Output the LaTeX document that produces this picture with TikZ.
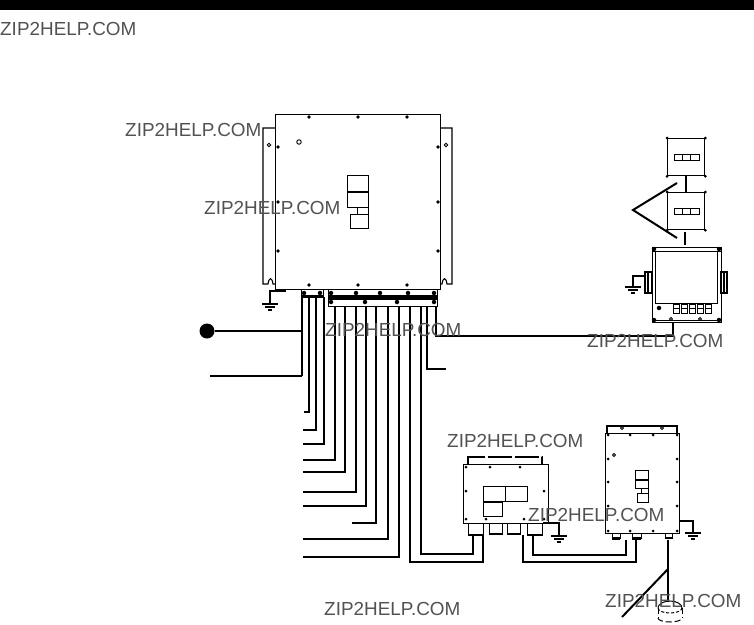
\documentclass[tikz,border=0pt]{standalone}
\usepackage{fontspec}
\setmainfont{Liberation Sans}
\usetikzlibrary{calc}
\tikzset{
  wire/.style={line width=2pt,line join=miter},
  thin line/.style={line width=1.1pt},
  panel/.style={draw,line width=1.3pt,fill=white,rectangle,inner sep=0pt,anchor=north west},
  mark label/.style={anchor=west,inner sep=0pt,text=black!68,font=\fontsize{18.9}{20}\selectfont},
  rivet/.style={circle,fill=black,inner sep=0pt,minimum size=3.6pt},
  ringhole/.style={circle,draw,line width=.9pt,inner sep=0pt,minimum size=4.5pt},
  gnd/.pic={
    \draw[line width=1.6pt] (-8,0) -- (8,0);
    \draw[line width=1.6pt] (-5,3) -- (5,3);
    \draw[line width=1.6pt] (-2,6) -- (2,6);
  }
}
\newcommand{\pbox}[5]{\node[panel,minimum width=#4pt-#2pt,minimum height=#5pt-#3pt] (#1) at (#2,#3) {};}
\begin{document}
\begin{tikzpicture}[x=1pt,y=-1pt]
\useasboundingbox (0,0) rectangle (754,624);
\fill[black] (0,0) rectangle (754,10);

% main unit flanges
\draw[thin line] (275,128) -- (263,128) -- (263,284) -- (268,284) .. controls (269,277) and (272,277) .. (273,284) -- (275,284);
\draw[thin line] (440,128) -- (452,128) -- (452,284) -- (447,284) .. controls (446,277) and (443,277) .. (442,284) -- (440,284);
\node[ringhole,minimum size=3.5pt] at (269,145) {};
\node[ringhole,minimum size=3.5pt] at (446,145) {};
\pbox{main}{275}{114}{440}{289}
\node[ringhole] at (299,142) {};
\foreach \p in {(309,117),(358,117),(407,117),(278,147),(438,147),(278,202),(438,202),(278,251),(438,251),(309,285),(358,285),(407,285)}
  \node[rivet] at \p {};
\pbox{mA}{347}{175}{368}{191}
\pbox{mB}{347}{191}{368}{207}
\pbox{mC}{357}{207}{368}{214}
\pbox{mD}{350}{214}{368}{228}
\draw[line width=1.8pt] (mA.south west) -- (mA.south east);

% terminal blocks
\pbox{tsL}{301}{289}{323}{297}
\pbox{tsR}{328}{289}{437}{306}
\fill (328,295) rectangle (437,300);
\fill (301,295) rectangle (323,297);
\foreach \p in {(304,293),(320,293),(331,293),(356,293),(380,293),(408,293),(434,293),(331,302),(365,302),(397,302),(434,302)}
  \node[rivet,minimum size=4.5pt] at \p {};

% ground of main unit
\coordinate (mg) at (286,291);
\coordinate (mgb) at (270,304);
\draw[wire] (mg) -| (mgb);
\pic at (mgb) {gnd};

% left inputs
\node[circle,fill=black,inner sep=0pt,minimum size=15pt] (dot) at (207,331) {};
\coordinate (busT) at (302,297);
\coordinate (busB) at (302,376);
\coordinate (inB) at (210,376);
\draw[line width=2.6pt] (busT) -- (busB);
\draw[wire] (dot) -- (302,331);
\draw[wire] (inB) -- (busB);

% harness
\foreach \x/\y/\l/\t in {309/412/304/297,316/430/303/297,324/444/303/297,335/460/303/306,345/472/303/306,356/492/303/306,366/506/303/306,376/523/352/306,388/539/303/306,399/557/303/306}
  \draw[wire] (\x,\t) -- (\x,\y) -- (\l,\y);
\draw[wire] (427,306) -- (427,369) -- (446,369);

% lower-left unit
\draw[thin line,dash pattern=on 24pt off 3pt] (468,464) -- (468,457) -- (542,457) -- (542,464);
\pbox{lu}{463}{464}{548}{523}
\foreach \p in {(466,467),(490,467),(520,467),(466,491),(544,491),(466,519),(486,519),(524,519),(544,519)}
  \node[rivet,minimum size=3pt] at \p {};
\pbox{luA}{483}{486}{505}{501}
\pbox{luB}{505}{486}{527}{501}
\pbox{luC}{483}{502}{502}{516}
\pbox{cA}{468}{523}{483}{535}
\pbox{cB}{489}{523}{502}{534}
\pbox{cC}{507}{523}{520}{534}
\pbox{cD}{527}{523}{542}{535}
\foreach \a/\b/\c in {468/483/535,489/502/534,507/520/534,527/542/535}
  \fill (\a,\c-1) rectangle (\b,\c+1);
\coordinate (lug) at (543,523);
\coordinate (lugb) at (559,536);
\draw[wire] (lug) -| (lugb);
\pic at (lugb) {gnd};

% wires to lower-left unit
\draw[wire] (421,306) -- (421,554) -- (473,554) -- (473,535);
\draw[wire] (410,306) -- (410,562) -- (483,562) -- (483,535);

% lower-right unit
\draw[thin line] (607,433) -- (607,426) -- (677,426) -- (677,433);
\node[ringhole,minimum size=3pt] at (622,428) {};
\node[ringhole,minimum size=3pt] at (662,428) {};
\pbox{ru}{605}{433}{679}{533}
\foreach \p in {(608,435),(630,435),(653,435),(677,435),(608,459),(677,459),(608,482),(677,482),(608,506),(677,506),(608,531),(630,531),(653,531),(677,531)}
  \node[rivet,minimum size=3pt] at \p {};
\node[ringhole,minimum size=3pt] at (614,455) {};
\pbox{rA}{635}{470}{648}{479}
\pbox{rB}{635}{479}{648}{488}
\pbox{rC}{641}{488}{648}{493}
\pbox{rD}{637}{493}{648}{502}
\draw[line width=1.8pt] (rA.south west) -- (rA.south east);
\pbox{rcA}{612}{533}{620}{538}
\pbox{rcB}{632}{533}{641}{538}
\pbox{rcC}{665}{533}{672}{538}
\fill (612,537) rectangle (620,540);
\fill (632,537) rectangle (641,540);
\fill (665,537) rectangle (672,539);
\coordinate (rug) at (679,521);
\coordinate (rugb) at (693,533);
\draw[wire] (rug) -| (rugb);
\pic at (rugb) {gnd};

% links between lower units
\draw[wire] (533,535) -- (533,555) -- (626,555) -- (626,540);
\draw[wire] (523,535) -- (523,562) -- (636,562) -- (636,538);

% antennas
\coordinate (ant) at (668,540);
\coordinate (cyl) at (668,602);
\draw[wire] (ant) -- (cyl);
\coordinate (whipA) at (668,569);
\coordinate (whipB) at (622,617);
\draw[wire] (whipA) -- (whipB);
\draw[line width=1pt] (658,608) arc[start angle=180,end angle=0,x radius=12pt,y radius=7pt];
\draw[line width=1pt,dash pattern=on 3pt off 2pt] (658,608) arc[start angle=180,end angle=360,x radius=12pt,y radius=5pt];
\draw[line width=1pt,dash pattern=on 6pt off 3pt] (658,608) -- (658,618) (682,608) -- (682,618);
\draw[line width=1pt,dash pattern=on 6pt off 3pt] (658,618) arc[start angle=180,end angle=360,x radius=12pt,y radius=4pt];

% upper-right switches
\pbox{swA}{667}{138}{704}{175}
\pbox{swB}{667}{192}{704}{229}
\foreach \n in {swA,swB}{
  \draw[line width=.8pt] ($(\n.center)+(-12,-3)$) rectangle ($(\n.center)+(-4,3)$);
  \draw[line width=.8pt] ($(\n.center)+(-4,-3)$) rectangle ($(\n.center)+(4,3)$);
  \draw[line width=.8pt] ($(\n.center)+(4,-3)$) rectangle ($(\n.center)+(13,3)$);
  \foreach \c in {north west,north east,south west,south east}
    \node[rivet,minimum size=3pt] at (\n.\c) {};
}
\draw[wire] (swA) -- (swB);
\coordinate (swL) at (685,232);
\coordinate (swLb) at (685,245);
\draw[wire] (swL) -- (swLb);
\coordinate (triA) at (677,183);
\coordinate (triT) at (633,210);
\coordinate (triB) at (677,238);
\draw[wire] (triA) -- (triT) -- (triB);

% display unit
\pbox{disp}{652}{247}{721}{322}
\draw[line width=1pt] (655,251) rectangle (717,303);
\draw[line width=1pt] (652,251) -- (721,251);
\draw[line width=1pt] (655,320) -- (718,320);
\foreach \p in {(654,249),(719,249),(654,320),(719,320)}
  \node[rivet,minimum size=4.5pt] at \p {};
\draw[line width=1.4pt,fill=white] (645,272) rectangle (652,293);
\draw[line width=1.4pt,fill=white] (721,272) rectangle (727,293);
\draw[line width=1.4pt] (648,272) -- (648,293) (724,272) -- (724,293);
\node[rivet,minimum size=4.5pt] at (659,308) {};
\foreach \x in {673,681,689,697,705}{
  \draw[line width=1pt] (\x,304) rectangle (\x+6,313);
  \draw[line width=1pt] (\x,308.5) -- (\x+6,308.5);
}
\node[ringhole,minimum size=3pt] at (671,319) {};
\node[ringhole,minimum size=3pt] at (700,319) {};
\coordinate (dg) at (645,276);
\coordinate (dgb) at (633,287);
\draw[wire] (dg) -| (dgb);
\pic at (dgb) {gnd};

% display link
\draw[wire] (436,306) -- (436,336) -- (673,336) -- (673,322);

% watermarks
\node[mark label] (w1) at (0,29) {ZIP2HELP.COM};
\node[mark label] (w2) at (125,130) {ZIP2HELP.COM};
\node[mark label] (w3) at (204,208) {ZIP2HELP.COM};
\node[mark label] (w4) at (325,330) {ZIP2HELP.COM};
\node[mark label] (w5) at (587,341) {ZIP2HELP.COM};
\node[mark label] (w6) at (447,441) {ZIP2HELP.COM};
\node[mark label] (w7) at (528,515) {ZIP2HELP.COM};
\node[mark label] (w8) at (324,609) {ZIP2HELP.COM};
\node[mark label] (w9) at (605,601) {ZIP2HELP.COM};
\end{tikzpicture}
\end{document}
